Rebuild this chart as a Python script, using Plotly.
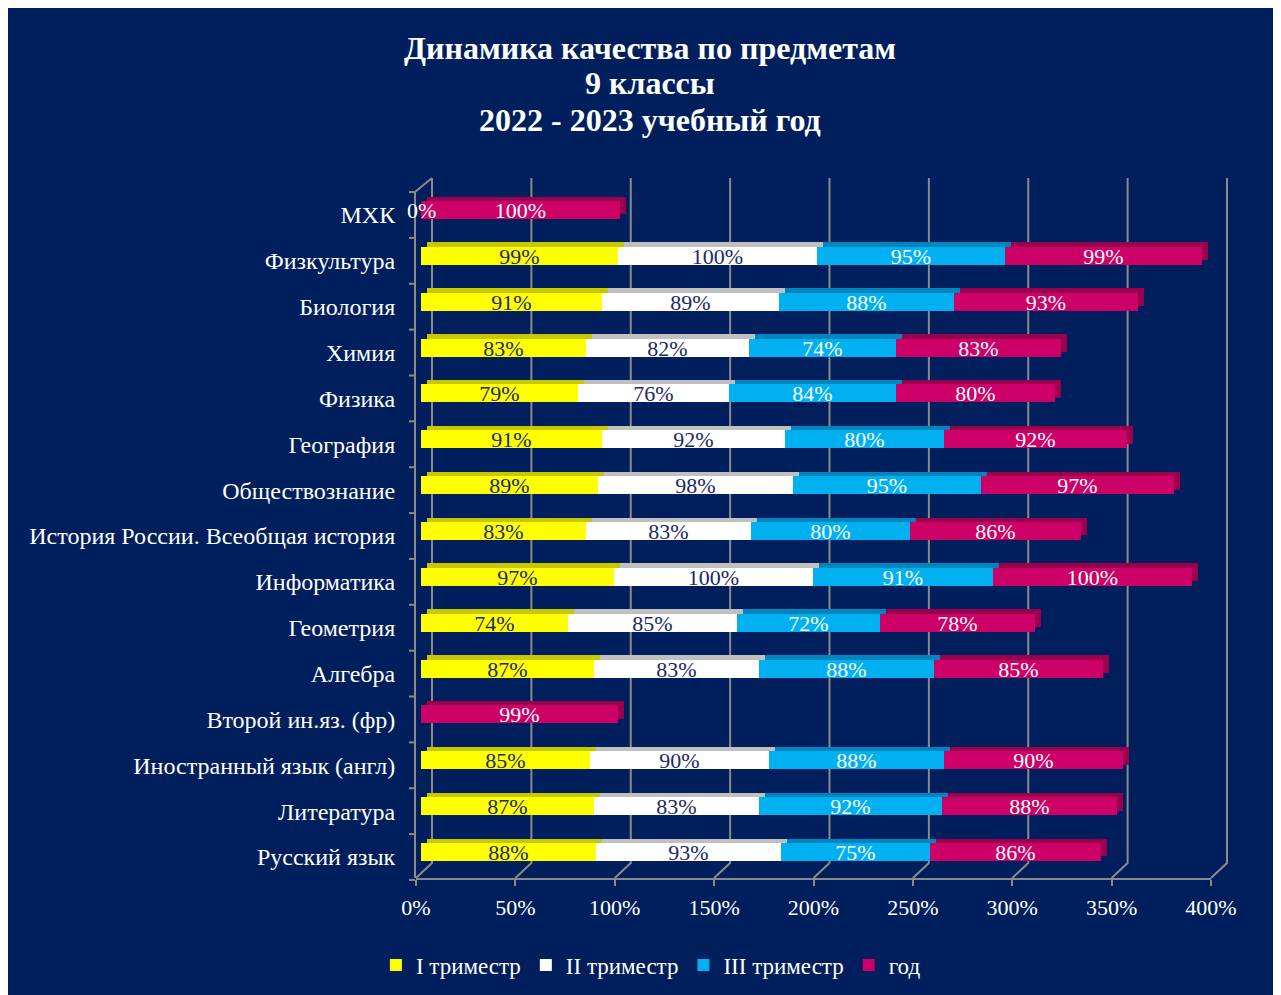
import plotly.graph_objects as go

# ---------------- data ----------------
categories = [
    "Русский язык", "Литература", "Иностранный язык (англ)", "Второй ин.яз. (фр)",
    "Алгебра", "Геометрия", "Информатика", "История России. Всеобщая история",
    "Обществознание", "География", "Физика", "Химия", "Биология", "Физкультура", "МХК",
]
tri1 = [88, 87, 85, None, 87, 74, 97, 83, 89, 91, 79, 83, 91, 99, 0]
tri2 = [93, 83, 90, None, 83, 85, 100, 83, 98, 92, 76, 82, 89, 100, None]
tri3 = [75, 92, 88, None, 88, 72, 91, 80, 95, 80, 84, 74, 88, 95, None]
year = [86, 88, 90, 99, 85, 78, 100, 86, 97, 92, 80, 83, 93, 99, 100]
series_names = ["I триместр", "II триместр", "III триместр", "год"]
x_ticks = [0, 50, 100, 150, 200, 250, 300, 350, 400]
x_tick_labels = ["0%", "50%", "100%", "150%", "200%", "250%", "300%", "350%", "400%"]

# ---------------- styles ----------------
BG = "#001f5c"
GRID = "#8a8a8a"
FONT = "Liberation Serif, Times New Roman, serif"
front_colors = ["#ffff00", "#ffffff", "#00b0f0", "#cc0066"]
top_colors = ["#c8c800", "#c0c0c0", "#0086bf", "#99004d"]
text_colors = ["#1a2a66", "#1a2a66", "#ffffff", "#ffffff"]

W, H = 1273, 987
L, R, T, B = 408, 1203, 170, 870           # plot area in figure pixels
XMAX = 400
sx = (R - L) / XMAX
n = len(categories)
c0, c14 = 844, 202                          # pixel centres of first/last category
sy = (c0 - c14) / (n - 1)
y_lo = -(B - c0) / sy
y_hi = (n - 1) + (c14 - T) / sy

BAR_W = 0.39
front_shift = 5 / sx                        # bars sit 5px behind the front axis
depth_x = 6 / sx                            # 3-D depth offsets
depth_y = 4.5 / sy


def px_x(p):
    return (p - L) / (R - L)


def px_y(p):
    return (B - p) / (B - T)


yidx = list(range(n))
all_series = [tri1, tri2, tri3, year]

# cumulative bases from the data
bases = []
running = [0.0] * n
for s in all_series:
    bases.append(list(running))
    running = [r + (v or 0) for r, v in zip(running, s)]

fig = go.Figure()

# shadow (top / side faces)
for s, b, col in zip(all_series, bases, top_colors):
    fig.add_trace(go.Bar(
        y=yidx, x=s, base=[bb + front_shift + depth_x for bb in b], orientation="h",
        marker=dict(color=col, line=dict(width=0)),
        width=BAR_W, offset=-BAR_W / 2 + depth_y,
        showlegend=False, hoverinfo="skip",
    ))

# front faces
for s, b, name, col, tcol in zip(all_series, bases, series_names, front_colors, text_colors):
    txt = [("" if (v is None or v == 0) else f"{v}%") for v in s]
    fig.add_trace(go.Bar(
        y=yidx, x=s, base=[bb + front_shift for bb in b], orientation="h", name=name,
        marker=dict(color=col, line=dict(width=0)),
        width=BAR_W, offset=-BAR_W / 2,
        text=txt, textposition="inside", insidetextanchor="middle",
        textangle=0, constraintext="none",
        textfont=dict(family=FONT, size=22, color=tcol),
    ))

# zero label for MXK first trimester
for i, v in enumerate(tri1):
    if v == 0:
        fig.add_annotation(x=v + front_shift, y=yidx[i], text="0%",
                           showarrow=False, xanchor="center",
                           font=dict(family=FONT, size=22, color="#ffffff"))

# gridlines with 3-D floor
shapes = []
for v in x_ticks:
    xf = L + v * sx
    shapes.append(dict(
        type="path", xref="paper", yref="paper", layer="below",
        path=f"M {px_x(xf)},{px_y(B)} L {px_x(xf + 16)},{px_y(B - 15)} L {px_x(xf + 16)},{px_y(T)}",
        line=dict(color=GRID, width=2),
    ))
# left wall
shapes.append(dict(type="path", xref="paper", yref="paper", layer="below",
                   path=f"M {px_x(L - 1)},{px_y(B)} L {px_x(L - 1)},{px_y(T + 14)} L {px_x(L + 16)},{px_y(T)}",
                   line=dict(color=GRID, width=2)))
# category ticks on the wall
for i in range(-1, n):
    yp = c0 - (i + 0.5) * sy + 5
    if T + 10 < yp < B + 2:
        shapes.append(dict(type="line", xref="paper", yref="paper", layer="below",
                           x0=px_x(L - 7), x1=px_x(L - 1), y0=px_y(yp), y1=px_y(yp),
                           line=dict(color=GRID, width=2)))

fig.update_layout(
    width=W, height=H,
    margin=dict(l=L, r=W - R, t=T, b=H - B, pad=0),
    paper_bgcolor=BG, plot_bgcolor="rgba(0,0,0,0)",
    barmode="overlay", bargap=0,
    showlegend=True,
    shapes=shapes,
    font=dict(family=FONT, color="#ffffff", size=21),
    xaxis=dict(range=[0, XMAX], tickvals=x_ticks, ticktext=x_tick_labels,
               showgrid=False, zeroline=False, showline=True, linecolor=GRID, linewidth=2,
               ticks="outside", ticklen=6, tickcolor=GRID, tickwidth=2,
               ticklabelstandoff=3,
               tickfont=dict(family=FONT, size=22, color="#ffffff")),
    yaxis=dict(range=[y_lo, y_hi], tickvals=yidx, ticktext=categories,
               showgrid=False, zeroline=False, showline=False, ticks="outside",
               ticklen=15, tickcolor="rgba(0,0,0,0)", ticklabelshift=5,
               tickfont=dict(family=FONT, size=24, color="#ffffff")),
    legend=dict(orientation="h", xref="container", yref="container",
                x=0.289, xanchor="left", y=0.0304, yanchor="middle",
                font=dict(family=FONT, size=23, color="#ffffff"),
                itemwidth=30, bgcolor="rgba(0,0,0,0)", traceorder="normal"),
)

title_lines = ["Динамика качества по предметам", "9 классы", "2022 - 2023 учебный год"]
for line, yc in zip(title_lines, [40, 75, 112]):
    fig.add_annotation(text=f"<b>{line}</b>", xref="paper", yref="paper",
                       x=px_x(642), y=px_y(yc), showarrow=False,
                       xanchor="center", yanchor="middle",
                       font=dict(family=FONT, size=32, color="#ffffff"))

fig.write_html("out.html")
